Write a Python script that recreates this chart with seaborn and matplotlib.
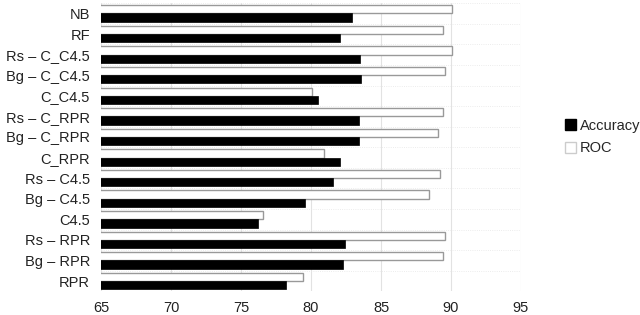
import pandas as pd
import numpy as np
import matplotlib.pyplot as plt
import seaborn as sns
from matplotlib.patches import Patch

models = ["NB", "RF", "Rs – C_C4.5", "Bg – C_C4.5", "C_C4.5", "Rs – C_RPR", "Bg – C_RPR",
          "C_RPR", "Rs – C4.5", "Bg – C4.5", "C4.5", "Rs – RPR", "Bg – RPR", "RPR"]
accuracy = [82.9, 82.1, 83.5, 83.6, 80.5, 83.4, 83.4, 82.1, 81.6, 79.6, 76.2, 82.4, 82.3, 78.2]
roc = [90.1, 89.4, 90.1, 89.6, 80.1, 89.4, 89.1, 80.9, 89.2, 88.4, 76.6, 89.6, 89.4, 79.4]

df = pd.DataFrame({"model": models * 2,
                   "value": roc + accuracy,
                   "metric": ["ROC"] * len(models) + ["Accuracy"] * len(models)})

sns.set_style("white")
plt.rcParams["font.family"] = ["Liberation Sans", "DejaVu Sans"]

fig = plt.figure(figsize=(6.4, 3.15), dpi=100)
ax = fig.add_axes([0.158, 0.075, 0.656, 0.915])

sns.barplot(data=df, y="model", x="value", hue="metric", hue_order=["ROC", "Accuracy"],
            palette={"ROC": "white", "Accuracy": "black"}, orient="h", width=0.8,
            ax=ax, legend=False)

# white bars get a gray outline, black bars stay solid
for p in ax.patches:
    if p.get_facecolor()[0] > 0.5:
        p.set_edgecolor("#999999")
        p.set_linewidth(1.0)
    else:
        p.set_edgecolor("black")
        p.set_linewidth(0.5)

ax.set_xlim(65, 95)
ax.set_xticks(range(65, 100, 5))
ax.set_ylim(len(models) - 0.5, -0.5)
ax.set_xlabel("")
ax.set_ylabel("")
ax.set_yticks(range(len(models)), models)
ax.set_yticks(np.arange(-0.5, len(models), 1), minor=True)
ax.tick_params(axis="both", which="both", length=0, labelsize=10.5, colors="#222222")
ax.tick_params(axis="y", pad=8)
ax.tick_params(axis="x", pad=7)
ax.set_axisbelow(True)
ax.grid(axis="x", color="#e2e2e2", linewidth=0.8)
ax.grid(axis="y", which="minor", color="#e6e6e6", linewidth=0.6, linestyle=":")
for s in ax.spines.values():
    s.set_visible(False)

handles = [Patch(facecolor="black", edgecolor="black", label="Accuracy"),
           Patch(facecolor="white", edgecolor="#cccccc", label="ROC")]
fig.legend(handles=handles, loc="center left", bbox_to_anchor=(0.862, 0.565),
           frameon=False, fontsize=10.5, handlelength=0.75, handleheight=0.75,
           handletextpad=0.3, labelspacing=0.6)

fig.savefig("out.png", dpi=100)
